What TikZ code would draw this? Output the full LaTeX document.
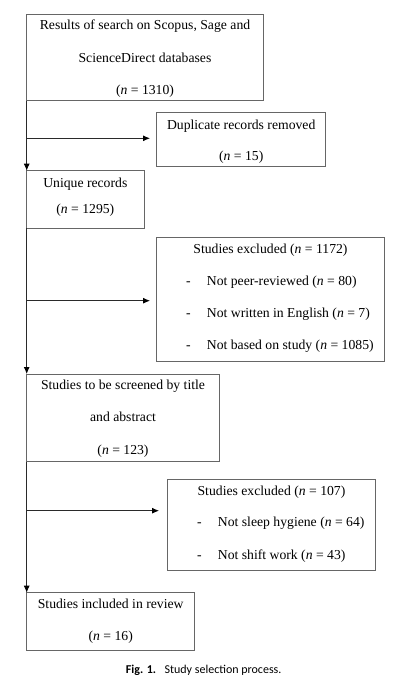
\documentclass[tikz,border=0pt]{standalone}
\usepackage{fontspec}
\setmainfont{Liberation Serif}
\newfontfamily\capfont{Carlito}
\usetikzlibrary{arrows.meta}
\definecolor{boxgray}{HTML}{666666}
\definecolor{linegray}{HTML}{2A2A2A}
\tikzset{
  box/.style={draw=boxgray, line width=0.8pt, inner sep=0pt, outer sep=0pt, anchor=north west},
  txt/.style={inner sep=0pt, anchor=mid, font=\fontsize{13.7}{16}\selectfont},
  ltxt/.style={inner sep=0pt, anchor=mid west, font=\fontsize{13.7}{16}\selectfont},
  conn/.style={draw=linegray, line width=0.8pt},
  arr/.style={conn, -{Latex[length=7pt,width=6pt,black]}},
}
\begin{document}
\begin{tikzpicture}[x=1pt,y=-1pt]
\useasboundingbox (0,0) rectangle (403,694);
% boxes
\node[box, minimum width=236.6pt, minimum height=86.4pt] (b1) at (26.7,14.3) {};
\node[box, minimum width=169pt, minimum height=54.4pt] (b2) at (156.7,112.3) {};
\node[box, minimum width=117.3pt, minimum height=57.6pt] (b3) at (26.7,170.7) {};
\node[box, minimum width=227.6pt, minimum height=123.7pt] (b4) at (156.7,237.3) {};
\node[box, minimum width=192.6pt, minimum height=87.7pt] (b5) at (26.7,374) {};
\node[box, minimum width=208.4pt, minimum height=91pt] (b6) at (167.3,479.3) {};
\node[box, minimum width=168pt, minimum height=57.6pt] (b7) at (26.7,592.7) {};
% texts
\node[txt] (t1a) at (145,27) {Results of search on Scopus, Sage and};
\node[txt] (t1b) at (145,60) {ScienceDirect databases};
\node[txt] (t1c) at (145,92) {(\textit{n} = 1310)};
\node[txt] (t2a) at (241.2,127) {Duplicate records removed};
\node[txt] (t2b) at (241.2,158) {(\textit{n} = 15)};
\node[txt] (t3a) at (85.3,185) {Unique records};
\node[txt] (t3b) at (85.3,211) {(\textit{n} = 1295)};
\node[txt] (t4a) at (270.5,250.7) {Studies excluded (\textit{n} = 1172)};
\node[ltxt] (t4b) at (186,283.3) {-};
\node[ltxt] (t4c) at (206.7,283.3) {Not peer-reviewed (\textit{n} = 80)};
\node[ltxt] (t4d) at (186,315) {-};
\node[ltxt] (t4e) at (206.7,315) {Not written in English (\textit{n} = 7)};
\node[ltxt] (t4f) at (186,346.7) {-};
\node[ltxt] (t4g) at (206.7,346.7) {Not based on study (\textit{n} = 1085)};
\node[txt] (t5a) at (123,387.3) {Studies to be screened by title};
\node[txt] (t5b) at (123,419.3) {and abstract};
\node[txt] (t5c) at (123,451.7) {(\textit{n} = 123)};
\node[txt] (t6a) at (271.5,492.7) {Studies excluded (\textit{n} = 107)};
\node[ltxt] (t6b) at (197,524.3) {-};
\node[ltxt] (t6c) at (217.7,524.3) {Not sleep hygiene (\textit{n} = 64)};
\node[ltxt] (t6d) at (197,556.7) {-};
\node[ltxt] (t6e) at (217.7,556.7) {Not shift work (\textit{n} = 43)};
\node[txt] (t7a) at (110.7,606) {Studies included in review};
\node[txt] (t7b) at (110.7,638.3) {(\textit{n} = 16)};
% caption
\node[inner sep=0pt, anchor=mid, font=\capfont\fontsize{12}{14}\selectfont] (cap) at (203.7,670.7) {\textbf{Fig. 1.}\hspace{0.7em}Study selection process.};
% junction coordinates
\coordinate (j1) at (26.7,138.3);
\coordinate (j2) at (26.7,300.7);
\coordinate (j3) at (26.7,510.7);
% connectors
\draw[arr] (b1.south west) -- (b3.north west);
\draw[arr] (b3.south west) -- (b5.north west);
\draw[arr] (b5.south west) -- (b7.north west);
\draw[arr, shorten >=6.7pt] (j1) -- (b2.west |- j1);
\draw[arr, shorten >=6.7pt] (j2) -- (b4.west |- j2);
\draw[arr, shorten >=8.3pt] (j3) -- (b6.west |- j3);
\end{tikzpicture}
\end{document}
